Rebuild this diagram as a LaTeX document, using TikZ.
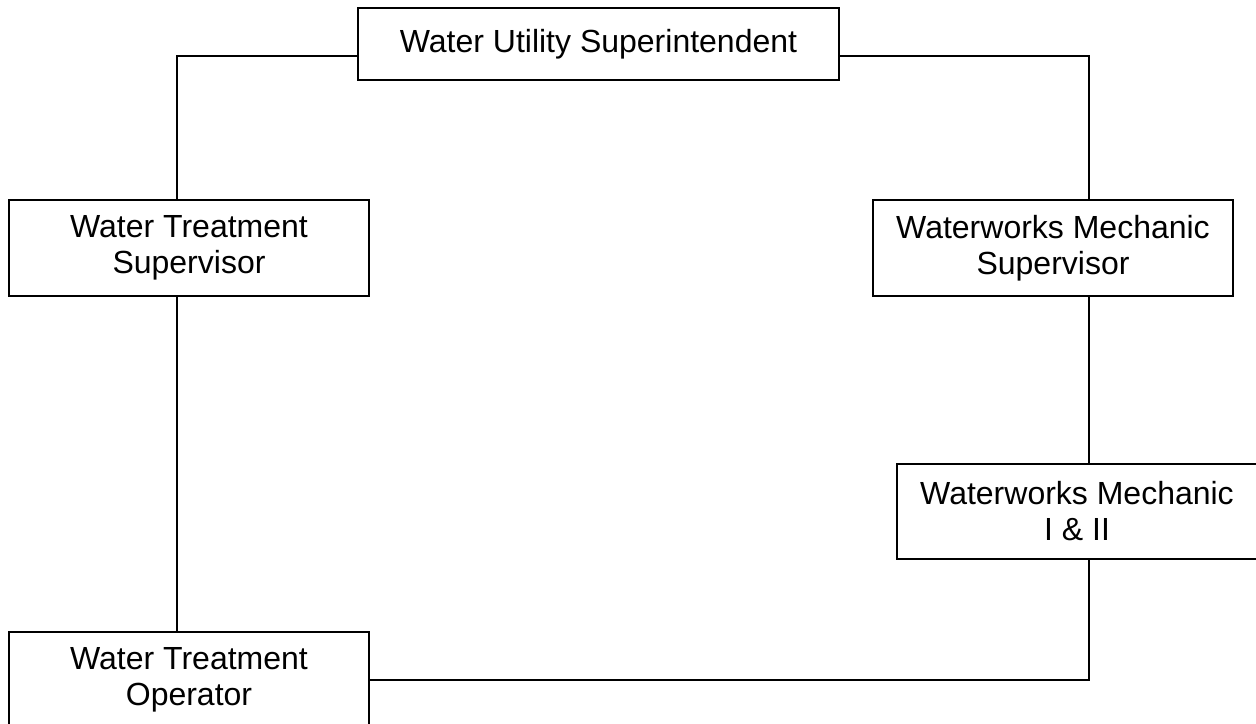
\documentclass[tikz,border=0pt]{standalone}
\usepackage{fontspec}
\setmainfont{Liberation Sans}
\begin{document}
\begin{tikzpicture}[x=0.5pt,y=-0.5pt,
  box/.style={draw=black, line width=0.7pt, fill=white, inner sep=0pt, align=center,
    font=\fontsize{16}{18}\selectfont, minimum width=180pt, minimum height=48pt},
  conn/.style={draw=black, line width=0.7pt}]
\useasboundingbox (0,0) rectangle (1256,723);
\node[box, minimum width=240.5pt, minimum height=36pt] (top) at (598.5,44) {Water Utility Superintendent};
\node[box] (wts) at (189,248) {Water Treatment\\Supervisor};
\node[box] (wms) at (1053,248) {Waterworks Mechanic\\Supervisor};
\node[box, minimum height=47.5pt] (wm12) at (1077,511.5) {Waterworks Mechanic\\I \& II};
\node[box] (wto) at (189,680) {Water Treatment\\Operator};
\coordinate (lt) at (177,56);
\coordinate (rt) at (1089,56);
\coordinate (rb) at (1089,680);
\draw[conn] (top.west |- lt) -- (lt) -- (lt |- wts.north);
\draw[conn] (top.east |- rt) -- (rt) -- (rt |- wms.north);
\draw[conn] (rt |- wms.south) -- (rt |- wm12.north);
\draw[conn] (rt |- wm12.south) -- (rb) -- (wto.east);
\draw[conn] (lt |- wts.south) -- (lt |- wto.north);
\end{tikzpicture}
\end{document}
